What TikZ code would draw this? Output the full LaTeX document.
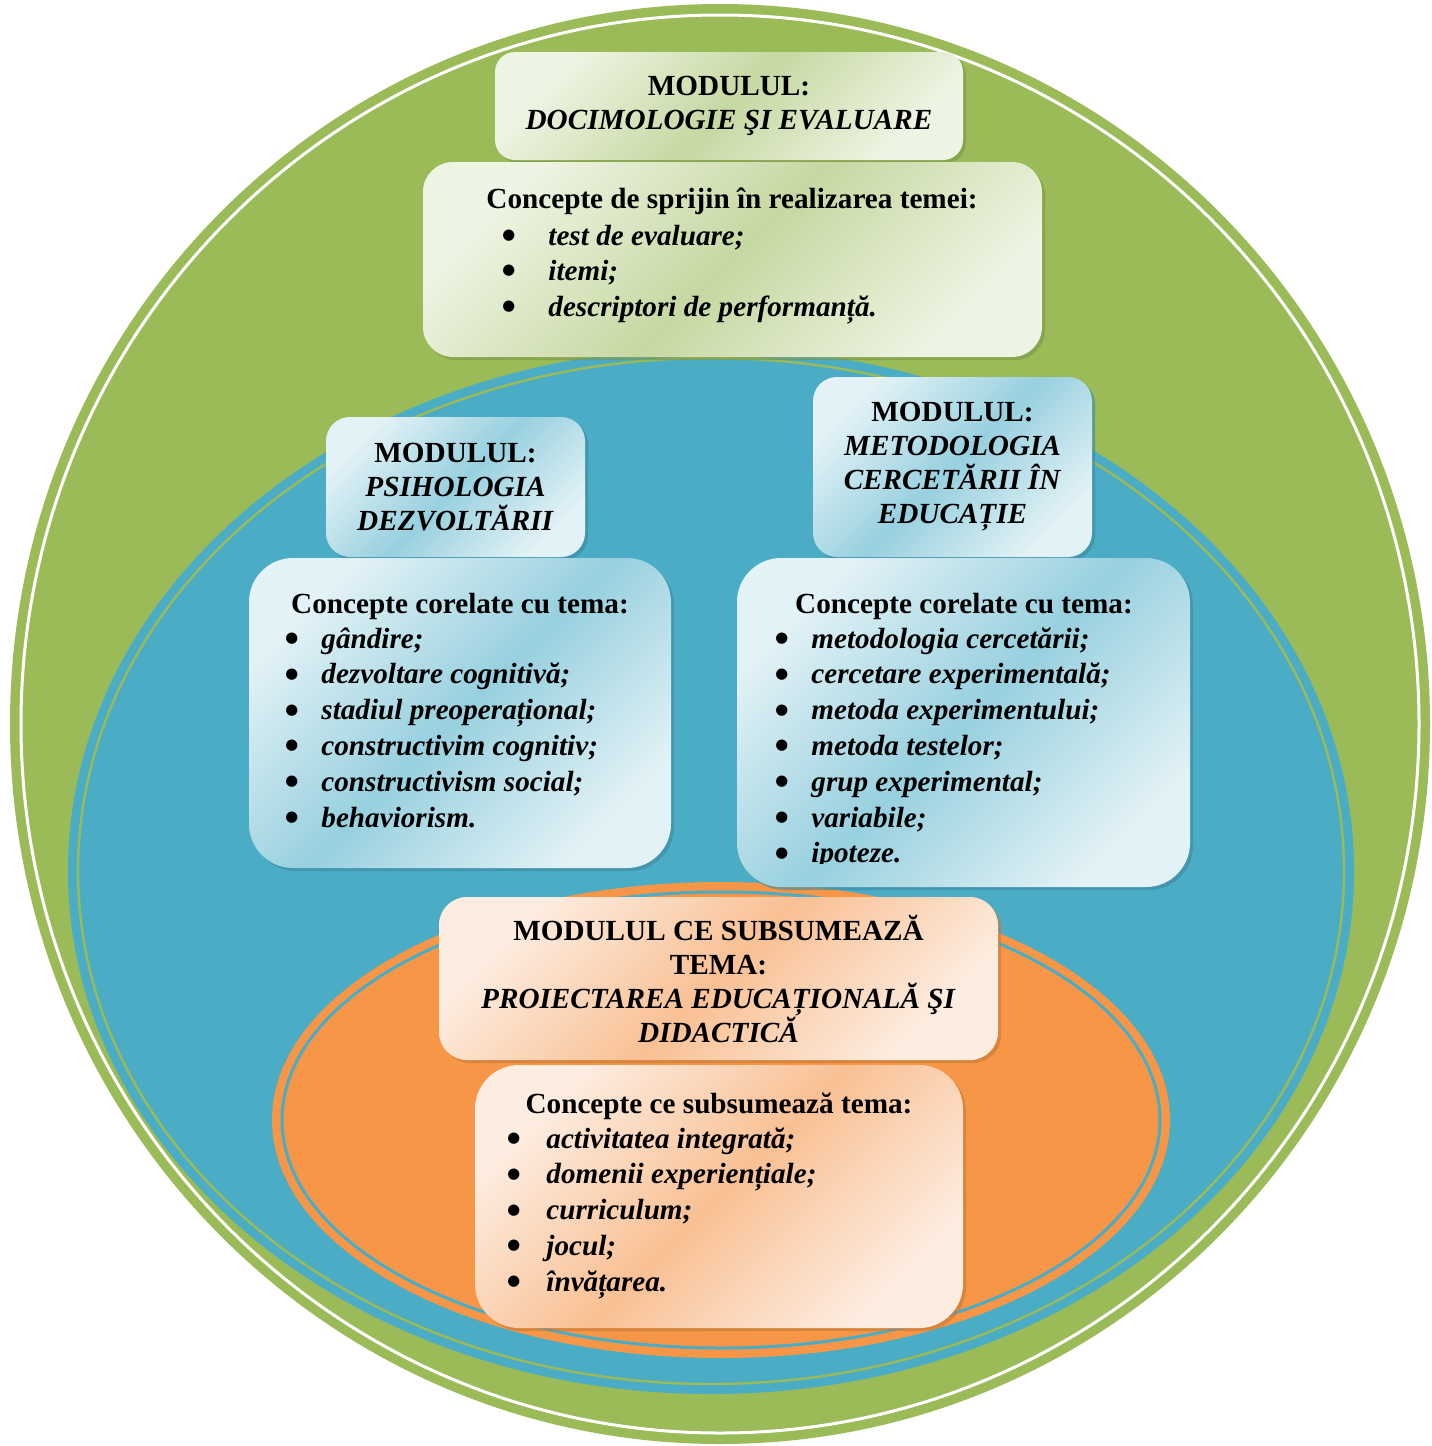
\documentclass[tikz,border=0pt]{standalone}
\usepackage{fontspec}
\setmainfont{Liberation Serif}
\newfontfamily\simbol{DejaVu Sans}
\usetikzlibrary{shadows}

\definecolor{verde}{HTML}{9BBB59}
\definecolor{albastru}{HTML}{4BACC6}
\definecolor{portocaliu}{HTML}{F79646}
\definecolor{vdesch}{HTML}{EEF4E3}
\definecolor{vinch}{HTML}{C6D8A2}
\definecolor{adesch}{HTML}{E3F2F6}
\definecolor{ainch}{HTML}{98D0DF}
\definecolor{pdesch}{HTML}{FDEDE1}
\definecolor{pinch}{HTML}{F9C094}

\newcommand\bulet[2]{\makebox[#1][l]{\raisebox{2.8pt}{\simbol\fontsize{7.4}{8}\selectfont ●}}\textit{#2}}

\begin{document}
\begin{tikzpicture}[x=0.5pt,y=-0.5pt,
  font=\fontsize{14.6}{17}\selectfont\bfseries,
  cutie/.style={inner sep=0pt, align=center},
  cutieV/.style={cutie, top color=vdesch, bottom color=vdesch, middle color=vinch, shading angle=45,
    drop shadow={shadow xshift=1.5pt,shadow yshift=-1.5pt,fill=verde!80!black,opacity=.6}},
  cutieA/.style={cutie, top color=adesch, bottom color=adesch, middle color=ainch, shading angle=45,
    drop shadow={shadow xshift=1.5pt,shadow yshift=-1.5pt,fill=albastru!80!black,opacity=.6}},
  cutieP/.style={cutie, top color=pdesch, bottom color=pdesch, middle color=pinch, shading angle=45,
    drop shadow={shadow xshift=1.5pt,shadow yshift=-1.5pt,fill=portocaliu!80!black,opacity=.6}},
  titlu/.style={anchor=base, inner sep=0pt},
  punct/.style={anchor=base west, inner sep=0pt}]
  \useasboundingbox (0,0) rectangle (1431,1446);

  % cercul verde
  \fill[verde] (720,724) ellipse [x radius=710, y radius=720];
  \draw[white, line width=1.5pt] (720,724) ellipse [x radius=699, y radius=709];
  % elipsa albastra
  \fill[albastru] (711,871) ellipse [x radius=643, y radius=523];
  \draw[verde, line width=1.2pt] (711,871) ellipse [x radius=633, y radius=513];
  % elipsa portocalie
  \fill[portocaliu] (721,1120) ellipse [x radius=449, y radius=238];
  \draw[albastru, line width=1.5pt] (721,1120) ellipse [x radius=439, y radius=228];

  % docimologie
  \node[cutieV, rounded corners=10pt, minimum width=234pt, minimum height=54pt] (docTitlu)
    at (729,106) {MODULUL:\\\textit{DOCIMOLOGIE ŞI EVALUARE}};
  \node[cutieV, rounded corners=15pt, minimum width=309.5pt, minimum height=97.5pt] (docConcepte)
    at (732.5,259.5) {};
  \node[titlu] (docCap) at (732,208) {Concepte de sprijin în realizarea temei:};
  \foreach \t [count=\i] in {test de evaluare;, itemi;, descriptori de performanță.}
    \node[punct] (docItem\i) at (502,{245+35.5*(\i-1)}) {\bulet{23pt}{\t}};

  % psihologia dezvoltarii
  \node[cutieA, rounded corners=12pt, minimum width=129.5pt, minimum height=70pt] (psiTitlu)
    at (455.5,487) {MODULUL:\\\textit{PSIHOLOGIA}\\\textit{DEZVOLTĂRII}};
  \node[cutieA, rounded corners=22pt, minimum width=211pt, minimum height=155pt] (psiConcepte)
    at (460,713) {};
  \node[titlu] (psiCap) at (460,613) {Concepte corelate cu tema:};
  \foreach \t [count=\i] in {gândire;, dezvoltare cognitivă;, stadiul preoperațional;,
      constructivim cognitiv;, constructivism social;, behaviorism.}
    \node[punct] (psiItem\i) at (285,{648+35.8*(\i-1)}) {\bulet{18pt}{\t}};

  % metodologia cercetarii
  \node[cutieA, rounded corners=12pt, minimum width=139.5pt, minimum height=90pt] (metTitlu)
    at (952.5,467) {MODULUL:\\\textit{METODOLOGIA}\\\textit{CERCETĂRII ÎN}\\\textit{EDUCAȚIE}};
  \node[cutieA, rounded corners=22pt, minimum width=226.5pt, minimum height=164.5pt] (metConcepte)
    at (963.5,722.5) {};
  \node[titlu] (metCap) at (964,613) {Concepte corelate cu tema:};
  \begin{scope}
    \clip (737,558) rectangle (1190,863);
    \foreach \t [count=\i] in {metodologia cercetării;, cercetare experimentală;,
        metoda experimentului;, metoda testelor;, grup experimental;, variabile;, ipoteze.}
      \node[punct] (metItem\i) at (775,{648+35.8*(\i-1)}) {\bulet{18pt}{\t}};
  \end{scope}

  % proiectarea
  \node[cutieP, rounded corners=14pt, minimum width=279.5pt, minimum height=81.5pt] (proTitlu)
    at (718.5,978.5) {MODULUL CE SUBSUMEAZĂ\\TEMA:\\\textit{PROIECTAREA EDUCAȚIONALĂ ŞI}\\\textit{DIDACTICĂ}};
  \node[cutieP, rounded corners=22pt, minimum width=244pt, minimum height=131.5pt] (proConcepte)
    at (719,1196.5) {};
  \node[titlu] (proCap) at (719,1113) {Concepte ce subsumează tema:};
  \foreach \t [count=\i] in {activitatea integrată;, domenii experiențiale;, curriculum;,
      jocul;, învățarea.}
    \node[punct] (proItem\i) at (507,{1148+35.8*(\i-1)}) {\bulet{19.5pt}{\t}};
\end{tikzpicture}
\end{document}
